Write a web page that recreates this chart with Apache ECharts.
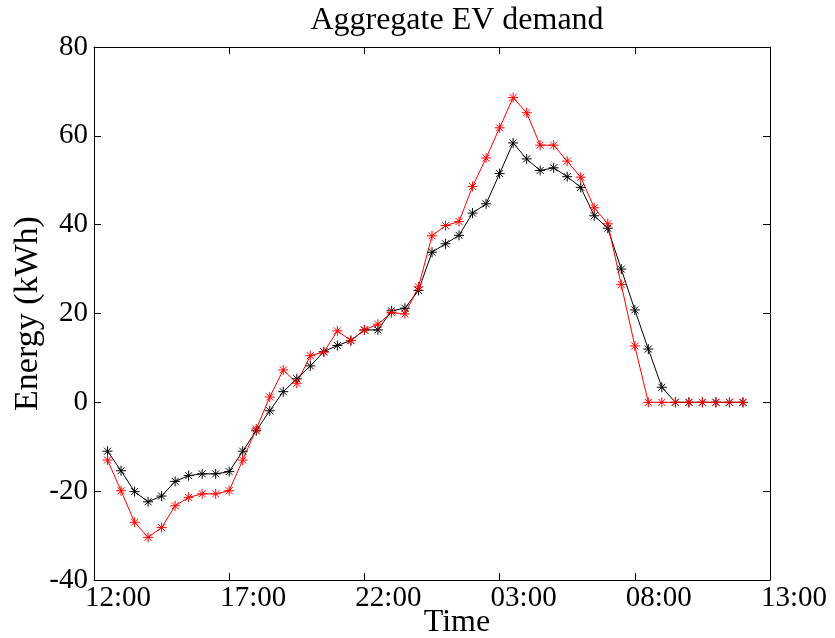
<!DOCTYPE html>
<html>
<head>
<meta charset="utf-8">
<title>Aggregate EV demand</title>
<script src="https://cdn.jsdelivr.net/npm/echarts@6/dist/echarts.min.js"></script>
<style>
  html, body { margin: 0; padding: 0; background: #fff; }
  #chart { width: 835px; height: 638px; }
</style>
</head>
<body>
<div id="chart"></div>
<script>
// half-hourly samples, 12:30 -> 12:00 next day
const times = [
  '12:30', '13:00', '13:30', '14:00', '14:30', '15:00', '15:30', '16:00',
  '16:30', '17:00', '17:30', '18:00', '18:30', '19:00', '19:30', '20:00',
  '20:30', '21:00', '21:30', '22:00', '22:30', '23:00', '23:30', '00:00',
  '00:30', '01:00', '01:30', '02:00', '02:30', '03:00', '03:30', '04:00',
  '04:30', '05:00', '05:30', '06:00', '06:30', '07:00', '07:30', '08:00',
  '08:30', '09:00', '09:30', '10:00', '10:30', '11:00', '11:30', '12:00'
];

const demandBlack = [
  -11.0, -15.4, -20.1, -22.4, -21.1, -17.8, -16.5, -16.1,
  -16.1, -15.6, -11.0, -6.4, -1.9, 2.4, 5.3, 8.2,
  11.4, 12.8, 13.9, 16.3, 16.3, 20.6, 21.2, 25.2,
  33.8, 35.7, 37.6, 42.6, 44.7, 51.5, 58.4, 54.8,
  52.2, 52.8, 50.8, 48.4, 42.0, 39.2, 30.0, 20.8,
  12.0, 3.4, 0, 0, 0, 0, 0, 0
];

const demandRed = [
  -13.0, -19.9, -27.0, -30.4, -28.2, -23.3, -21.4, -20.6,
  -20.6, -19.9, -13.0, -6.0, 1.2, 7.3, 4.3, 10.5,
  11.3, 16.1, 13.9, 16.3, 17.6, 20.2, 19.9, 26.0,
  37.5, 39.8, 40.7, 48.6, 55.0, 61.8, 68.6, 65.2,
  57.9, 57.9, 54.3, 50.7, 43.8, 40.2, 26.5, 12.7,
  0, 0, 0, 0, 0, 0, 0, 0
];

const xTickLabels = ['12:00', '17:00', '22:00', '03:00', '08:00', '13:00'];

// hours since 12:00 on day one
function toHours(t, i) {
  const [h, m] = t.split(':').map(Number);
  let v = h + m / 60 - 12;
  if (v <= 0 && i > 0) v += 24;
  return v;
}
const xs = times.map(toHours);

const font = 'Liberation Serif, Times New Roman, serif';
const asterisk = 'path://M5,0L5,10M0,5L10,5M1.5,1.5L8.5,8.5M1.5,8.5L8.5,1.5';

function makeSeries(values, color) {
  return {
    type: 'line',
    data: xs.map((x, i) => [x, values[i]]),
    symbol: asterisk,
    symbolSize: 10,
    showAllSymbol: true,
    lineStyle: { color: color, width: 1 },
    itemStyle: { color: color, borderColor: color, borderWidth: 1 },
    emphasis: { disabled: true },
    animation: false
  };
}

const chart = echarts.init(document.getElementById('chart'));

const frameX = {
  type: 'value',
  min: 0,
  max: 25,
  interval: 5,
  axisLine: { show: true, onZero: false, lineStyle: { color: '#000', width: 1 } },
  axisTick: { show: true, inside: true, length: 7, lineStyle: { color: '#000' } },
  splitLine: { show: false }
};
const frameY = {
  type: 'value',
  min: -40,
  max: 80,
  interval: 20,
  axisLine: { show: true, onZero: false, lineStyle: { color: '#000', width: 1 } },
  axisTick: { show: true, inside: true, length: 7, lineStyle: { color: '#000' } },
  splitLine: { show: false }
};

chart.setOption({
  backgroundColor: '#fff',
  title: {
    text: 'Aggregate EV demand',
    left: 452,
    textAlign: 'center',
    top: 0,
    textStyle: { fontFamily: font, fontSize: 32, fontWeight: 'normal', color: '#000' }
  },
  grid: { left: 94, right: 65, top: 47, bottom: 58, outerBoundsMode: 'none', containLabel: false },
  xAxis: [
    Object.assign({}, frameX, {
      position: 'bottom',
      name: 'Time',
      nameLocation: 'middle',
      nameGap: 27,
      nameMoveOverlap: false,
      nameTextStyle: { fontFamily: font, fontSize: 32, color: '#000', padding: [0, 0, 0, 50] },
      axisLabel: {
        fontFamily: font, fontSize: 29, color: '#000', margin: 4,
        padding: [0, 0, 0, 48],
        formatter: v => xTickLabels[Math.round(v / 5)]
      }
    }),
    Object.assign({}, frameX, { position: 'top', axisLabel: { show: false } })
  ],
  yAxis: [
    Object.assign({}, frameY, {
      position: 'left',
      name: 'Energy (kWh)',
      nameLocation: 'middle',
      nameGap: 49,
      nameMoveOverlap: false,
      nameTextStyle: { fontFamily: font, fontSize: 34, color: '#000' },
      axisLabel: { fontFamily: font, fontSize: 29, color: '#000', margin: 6 }
    }),
    Object.assign({}, frameY, { position: 'right', axisLabel: { show: false } })
  ],
  series: [
    makeSeries(demandBlack, '#000000'),
    makeSeries(demandRed, '#ff0000')
  ]
});
</script>
</body>
</html>
